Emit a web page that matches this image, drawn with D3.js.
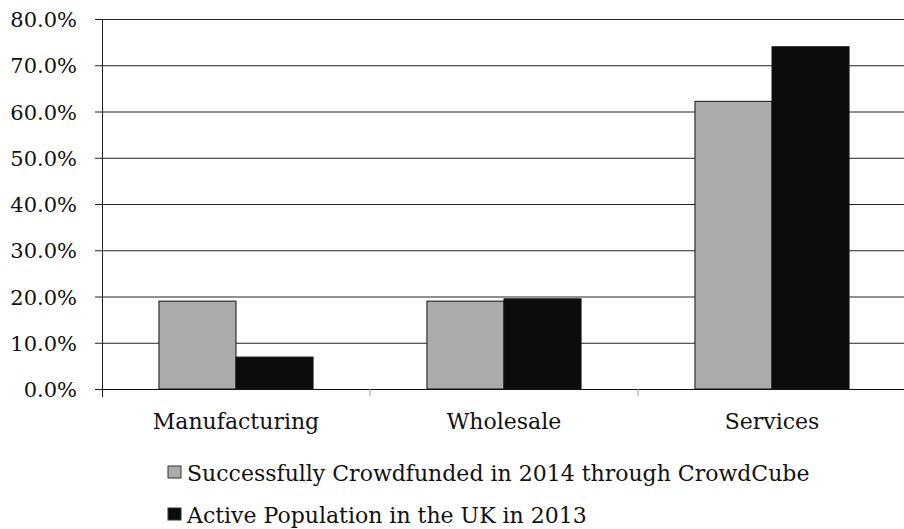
<!DOCTYPE html>
<html><head><meta charset="utf-8">
<script src="https://cdn.jsdelivr.net/npm/d3@7"></script>
<style>body{margin:0;background:#fff}svg{display:block}</style>
</head><body><div id="chart"></div>
<script>
const categories = ["Manufacturing", "Wholesale", "Services"];
const seriesNames = ["Successfully Crowdfunded in 2014 through CrowdCube", "Active Population in the UK in 2013"];
const crowdcube = [19.0, 19.0, 62.2];
const activePop = [6.9, 19.5, 74.0];
const yTicks = [0, 10, 20, 30, 40, 50, 60, 70, 80];
const colors = ["#ababab", "#0c0c0c"];

const W = 904, H = 529;
const FONT = "'DejaVu Serif', 'Liberation Serif', serif";
const svg = d3.select("#chart").append("svg").attr("width", W).attr("height", H)
  .style("font-family", FONT);
const pLeft = 102, pRight = 906, pTop = 19, pBottom = 389;

const y = d3.scaleLinear().domain([0, 80]).range([pBottom, pTop]);
const x0 = d3.scaleBand().domain(categories).range([pLeft, pRight]).paddingInner(0.425).paddingOuter(0.2125);
const x1 = d3.scaleBand().domain([0, 1]).range([0, x0.bandwidth()]);

// gridlines
svg.append("g").selectAll("line").data(yTicks).join("line")
  .attr("x1", pLeft - 7).attr("x2", W).attr("y1", d => y(d) + 0.5).attr("y2", d => y(d) + 0.5)
  .attr("stroke", "#222").attr("stroke-width", 1);

// y labels
svg.append("g").selectAll("text").data(yTicks).join("text")
  .attr("x", 77).attr("y", d => y(d) + 8).attr("text-anchor", "end")
  .attr("font-family", FONT).attr("fill", "#111")
  .attr("font-size", 21).text(d => d3.format(".1f")(d) + "%");

// bars
const data = categories.map((c, i) => ({c, v: [crowdcube[i], activePop[i]]}));
const g = svg.append("g").selectAll("g").data(data).join("g")
  .attr("transform", d => `translate(${x0(d.c)},0)`);
g.selectAll("rect").data(d => d.v.map((v, k) => ({v, k}))).join("rect")
  .attr("x", d => x1(d.k)).attr("width", x1.bandwidth())
  .attr("y", d => y(d.v)).attr("height", d => y(0) - y(d.v))
  .attr("fill", d => colors[d.k]).attr("stroke", "#111").attr("stroke-width", 1);

// axes
svg.append("line").attr("x1", pLeft + 0.5).attr("x2", pLeft + 0.5).attr("y1", pTop).attr("y2", pBottom + 8)
  .attr("stroke", "#222");
svg.append("line").attr("x1", pLeft).attr("x2", W).attr("y1", pBottom + 0.5).attr("y2", pBottom + 0.5)
  .attr("stroke", "#111");
const step = x0.step();
svg.append("g").selectAll("line").data([1, 2]).join("line")
  .attr("x1", d => pLeft + d * step).attr("x2", d => pLeft + d * step)
  .attr("y1", pBottom).attr("y2", pBottom + 7).attr("stroke", "#999");

// category labels
svg.append("g").selectAll("text").data(categories).join("text")
  .attr("x", d => x0(d) + x0.bandwidth() / 2).attr("y", 429).attr("text-anchor", "middle")
  .attr("font-family", FONT).attr("fill", "#111")
  .attr("font-size", 22).text(d => d);

// legend
const lg = svg.append("g").selectAll("g").data(seriesNames).join("g")
  .attr("transform", (d, i) => `translate(168,${466 + i * 42})`);
lg.append("rect").attr("width", 13).attr("height", 12).attr("fill", (d, i) => colors[i]).attr("stroke", "#333");
lg.append("text").attr("x", 19).attr("y", 15).attr("font-size", 22)
  .attr("font-family", FONT).attr("fill", "#111").text(d => d);
</script></body></html>
